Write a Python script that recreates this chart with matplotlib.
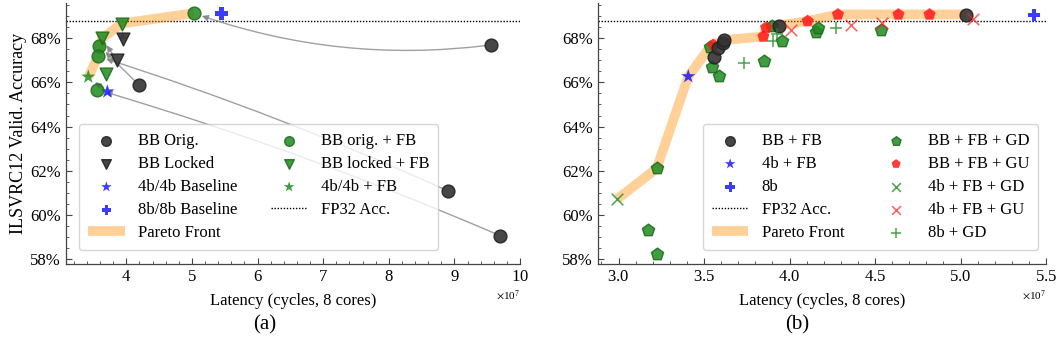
import matplotlib
matplotlib.use("Agg")
import matplotlib.pyplot as plt
from matplotlib.ticker import MultipleLocator, FuncFormatter, ScalarFormatter
from matplotlib.patches import FancyArrowPatch

plt.rcParams['font.family'] = ['Liberation Serif', 'DejaVu Serif']
plt.rcParams['mathtext.fontset'] = 'stix'

SCALE = 1e7  # latency values below are in units of 1e7 cycles

FP32_ACC = 68.77

# ---------------- Panel (a) data ----------------
a_bb_orig_x = [4.19, 9.56, 8.91, 9.70]
a_bb_orig_y = [65.89, 67.70, 61.07, 59.05]
a_bb_locked_x = [3.95, 3.85]
a_bb_locked_y = [67.95, 67.01]
a_4b_base_x = [3.71]
a_4b_base_y = [65.58]
a_8b_base_x = [5.45]
a_8b_base_y = [69.12]
a_bb_orig_fb_x = [5.03, 3.59, 3.57, 3.56]
a_bb_orig_fb_y = [69.14, 67.65, 67.18, 65.67]
a_bb_locked_fb_x = [3.93, 3.63, 3.69]
a_bb_locked_fb_y = [68.67, 68.00, 66.40]
a_4b_fb_x = [3.42]
a_4b_fb_y = [66.25]
a_pareto_x = [3.42, 3.57, 3.59, 3.63, 3.93, 5.03]
a_pareto_y = [66.25, 67.18, 67.65, 68.00, 68.67, 69.14]
# arrows: (from_x, from_y, to_x, to_y, curvature)
a_arrows = [
    (9.56, 67.70, 5.03, 69.14, -0.12),
    (4.19, 65.89, 3.59, 67.65, 0.0),
    (8.91, 61.07, 3.57, 67.18, 0.03),
    (9.70, 59.05, 3.56, 65.67, 0.03),
    (3.85, 67.01, 3.63, 68.00, 0.0),
    (3.95, 67.95, 3.93, 68.67, 0.0),
    (3.71, 65.58, 3.42, 66.25, 0.0),
]

# ---------------- Panel (b) data ----------------
b_bb_fb_x = [3.556, 3.582, 3.613, 3.617, 3.936, 5.032]
b_bb_fb_y = [67.13, 67.55, 67.80, 67.92, 68.58, 69.06]
b_4b_fb_x = [3.408]
b_4b_fb_y = [66.27]
b_8b_x = [5.43]
b_8b_y = [69.06]
b_bb_fb_gd_x = [3.223, 3.534, 3.544, 3.588, 3.851, 3.896, 3.956, 4.157, 4.169, 4.534, 3.175, 3.225]
b_bb_fb_gd_y = [62.10, 67.60, 66.70, 66.28, 66.98, 68.58, 67.88, 68.30, 68.45, 68.38, 59.30, 58.22]
b_bb_fb_gu_x = [3.554, 3.847, 3.863, 4.106, 4.283, 4.637, 4.819]
b_bb_fb_gu_y = [67.70, 68.08, 68.48, 68.78, 69.08, 69.08, 69.08]
b_4b_fb_gd_x = [2.99]
b_4b_fb_gd_y = [60.70]
b_4b_fb_gu_x = [4.01, 4.36, 4.54, 5.075]
b_4b_fb_gu_y = [68.36, 68.60, 68.68, 68.88]
b_8b_gd_x = [3.735, 3.905, 3.925, 4.27]
b_8b_gd_y = [66.88, 67.88, 68.20, 68.48]
b_pareto_x = [2.99, 3.223, 3.408, 3.534, 3.617, 3.847, 3.863, 3.936, 4.106, 4.283, 5.032]
b_pareto_y = [60.70, 62.10, 66.27, 67.60, 67.92, 68.08, 68.48, 68.58, 68.78, 69.08, 69.08]

# ---------------- styles ----------------
C_BLACK = '#333333'
C_GREEN = '#1f8a1f'
C_BLUE = '#1a1aff'
C_RED = '#ff1a1a'
PARETO_KW = dict(color='darkorange', alpha=0.4, lw=7, solid_capstyle='butt', zorder=1)
FS = 12

fig = plt.figure(figsize=(10.62, 3.54), dpi=100)
W, H = 1062.0, 354.0
axA = fig.add_axes([66 / W, (H - 264) / H, 454 / W, 261 / H])
axB = fig.add_axes([598 / W, (H - 264) / H, 448 / W, 261 / H])


def xs(v):
    return [t * SCALE for t in v]


def style_axis(ax, xmin, xmax, xmajor, xminor):
    ax.set_xlim(xmin * SCALE, xmax * SCALE)
    ax.set_ylim(57.77, 69.6)
    for s in ('top', 'right'):
        ax.spines[s].set_visible(False)
    for s in ('left', 'bottom'):
        ax.spines[s].set_color('#444444')
        ax.spines[s].set_linewidth(0.9)
    ax.xaxis.set_major_locator(MultipleLocator(xmajor * SCALE))
    ax.xaxis.set_minor_locator(MultipleLocator(xminor * SCALE))
    ax.yaxis.set_major_locator(MultipleLocator(2))
    ax.yaxis.set_minor_locator(MultipleLocator(0.5))
    ax.yaxis.set_major_formatter(FuncFormatter(lambda v, p: f'{v:.0f}%'))
    fmt = ScalarFormatter(useMathText=True)
    fmt.set_powerlimits((7, 7))
    ax.xaxis.set_major_formatter(fmt)
    ax.xaxis.get_offset_text().set_fontsize(8)
    ax.tick_params(which='both', direction='in', colors='#444444', labelcolor='black')
    ax.tick_params(which='major', length=4, width=0.8, labelsize=FS)
    ax.tick_params(which='minor', length=2, width=0.6)
    ax.set_xlabel('Latency (cycles, 8 cores)', fontsize=FS, labelpad=6)
    ax.axhline(FP32_ACC, color='black', ls=(0, (1, 1.2)), lw=1.0, zorder=1,
               label='FP32 Acc.')


# ---------------- Panel (a) ----------------
style_axis(axA, 3.08, 10.0, 1, 0.2)
axA.plot(xs(a_pareto_x), a_pareto_y, label='Pareto Front', **PARETO_KW)
for (x0, y0, x1, y1, rad) in a_arrows:
    arr = FancyArrowPatch((x0 * SCALE, y0), (x1 * SCALE, y1),
                          connectionstyle=f'arc3,rad={rad}', arrowstyle='-|>',
                          mutation_scale=9, color='gray', alpha=0.75, lw=1.0,
                          shrinkA=4, shrinkB=6, zorder=2)
    axA.add_patch(arr)
sk = dict(s=85, zorder=3)
axA.scatter(xs(a_bb_orig_x), a_bb_orig_y, marker='o', c=C_BLACK, alpha=0.9,
            edgecolors='#222222', label='BB Orig.', **sk)
axA.scatter(xs(a_bb_locked_x), a_bb_locked_y, marker='v', c=C_BLACK, alpha=0.9,
            edgecolors='#222222', label='BB Locked', **sk)
axA.scatter(xs(a_4b_base_x), a_4b_base_y, marker='*', c=C_BLUE, alpha=0.85,
            edgecolors='none', label='4b/4b Baseline', s=115, zorder=3)
axA.scatter(xs(a_8b_base_x), a_8b_base_y, marker='P', c=C_BLUE, alpha=0.85,
            edgecolors='none', label='8b/8b Baseline', **sk)
axA.scatter(xs(a_bb_orig_fb_x), a_bb_orig_fb_y, marker='o', c=C_GREEN, alpha=0.85,
            edgecolors='#1a6a1a', label='BB orig. + FB', **sk)
axA.scatter(xs(a_bb_locked_fb_x), a_bb_locked_fb_y, marker='v', c=C_GREEN, alpha=0.85,
            edgecolors='#1a6a1a', label='BB locked + FB', **sk)
axA.scatter(xs(a_4b_fb_x), a_4b_fb_y, marker='*', c=C_GREEN, alpha=0.85,
            edgecolors='none', label='4b/4b + FB', s=115, zorder=3)
hl, ll = axA.get_legend_handles_labels()
d = dict(zip(ll, hl))
orderA = ['BB Orig.', 'BB Locked', '4b/4b Baseline', '8b/8b Baseline', 'Pareto Front',
          'BB orig. + FB', 'BB locked + FB', '4b/4b + FB', 'FP32 Acc.']
axA.legend([d[k] for k in orderA], orderA, ncol=2, loc='lower left',
           bbox_to_anchor=(0.01, 0.02), fontsize=FS, markerscale=0.75,
           handlelength=2.2, columnspacing=2.0, labelspacing=0.42,
           borderpad=0.55, fancybox=True, framealpha=0.8, edgecolor='0.8')
axA.set_ylabel('ILSVRC12 Valid. Accuracy', fontsize=FS + 1)
axA.yaxis.set_label_coords(-0.085, 0.5)

# ---------------- Panel (b) ----------------
style_axis(axB, 2.88, 5.5, 0.5, 0.1)
axB.plot(xs(b_pareto_x), b_pareto_y, label='Pareto Front', **PARETO_KW)
axB.scatter(xs(b_bb_fb_gd_x), b_bb_fb_gd_y, marker='p', c=C_GREEN, alpha=0.85,
            edgecolors='#1a6a1a', label='BB + FB + GD', **sk)
axB.scatter(xs(b_bb_fb_gu_x), b_bb_fb_gu_y, marker='p', c=C_RED, alpha=0.85,
            edgecolors='none', label='BB + FB + GU', **sk)
axB.scatter(xs(b_bb_fb_x), b_bb_fb_y, marker='o', c=C_BLACK, alpha=0.9,
            edgecolors='#222222', label='BB + FB', **sk)
axB.scatter(xs(b_4b_fb_x), b_4b_fb_y, marker='*', c=C_BLUE, alpha=0.85,
            edgecolors='none', label='4b + FB', s=115, zorder=3)
axB.scatter(xs(b_8b_x), b_8b_y, marker='P', c=C_BLUE, alpha=0.85,
            edgecolors='none', label='8b', **sk)
axB.scatter(xs(b_4b_fb_gd_x), b_4b_fb_gd_y, marker='x', c=C_GREEN, alpha=0.8,
            label='4b + FB + GD', s=70, linewidths=1.1, zorder=3)
axB.scatter(xs(b_4b_fb_gu_x), b_4b_fb_gu_y, marker='x', c=C_RED, alpha=0.7,
            label='4b + FB + GU', s=70, linewidths=1.1, zorder=3)
axB.scatter(xs(b_8b_gd_x), b_8b_gd_y, marker='+', c=C_GREEN, alpha=0.8,
            label='8b + GD', s=80, linewidths=1.1, zorder=3)
hl, ll = axB.get_legend_handles_labels()
d = dict(zip(ll, hl))
orderB = ['BB + FB', '4b + FB', '8b', 'FP32 Acc.', 'Pareto Front',
          'BB + FB + GD', 'BB + FB + GU', '4b + FB + GD', '4b + FB + GU', '8b + GD']
axB.legend([d[k] for k in orderB], orderB, ncol=2, loc='lower left',
           bbox_to_anchor=(0.215, 0.02), fontsize=FS, markerscale=0.75,
           handlelength=2.2, columnspacing=2.0, labelspacing=0.42,
           borderpad=0.55, fancybox=True, framealpha=0.8, edgecolor='0.8')

fig.text(265 / W, 1 - 325 / H, '(a)', ha='center', va='center', fontsize=15)
fig.text(797 / W, 1 - 325 / H, '(b)', ha='center', va='center', fontsize=15)

fig.savefig('out.png', dpi=100)
